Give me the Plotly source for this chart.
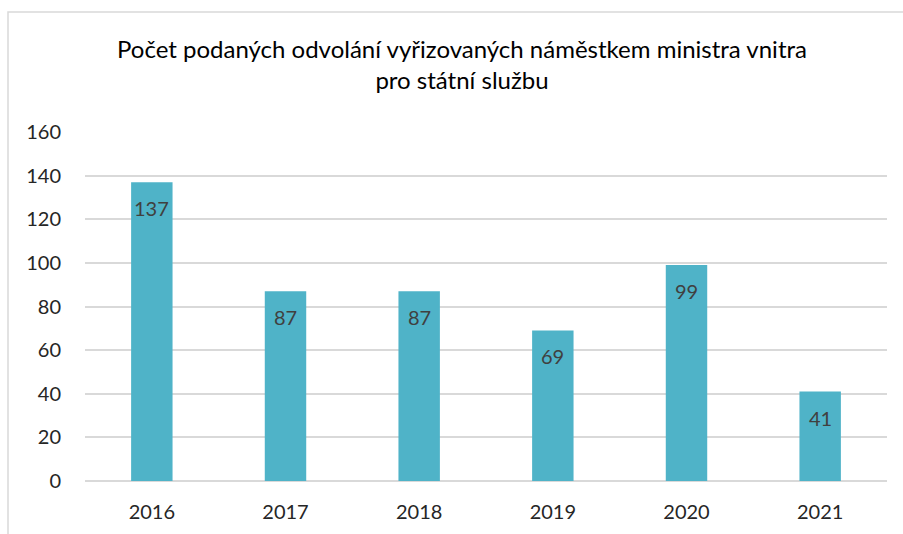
import plotly.graph_objects as go

years = [2016, 2017, 2018, 2019, 2020, 2021]
values = [137, 87, 87, 69, 99, 41]
y_ticks = [0, 20, 40, 60, 80, 100, 120, 140, 160]
title_text = "Počet podaných odvolání vyřizovaných náměstkem ministra vnitra<br>pro státní službu"

W, H = 903, 534
L, R, T, B = 85, 16, 132, 53
FONT = "Lato, Liberation Sans, sans-serif"

fig = go.Figure()
fig.add_trace(go.Bar(
    x=years, y=values,
    marker=dict(color="#4fb3c8", line=dict(width=0)),
    hoverinfo="x+y",
))

for x, v in zip(years, values):
    fig.add_annotation(
        x=x, y=v, text=str(v), showarrow=False,
        yanchor="top", yshift=-12,
        font=dict(family=FONT, size=20, color="#404040"),
    )

fig.update_layout(
    width=W, height=H,
    margin=dict(l=L, r=R, t=T, b=B, autoexpand=False),
    paper_bgcolor="white", plot_bgcolor="white",
    bargap=0.69,
    showlegend=False,
    title=dict(
        text=title_text,
        x=462 / W, xanchor="center",
        y=1 - 58 / H, yanchor="middle",
        font=dict(family=FONT, size=24, color="#000000"),
    ),
    font=dict(family=FONT),
    shapes=[dict(
        type="rect", xref="paper", yref="paper",
        x0=(8 - L) / (W - L - R), x1=(W + 20 - L) / (W - L - R),
        y0=-(B + 20) / (H - T - B), y1=1 + (T - 12) / (H - T - B),
        line=dict(color="#d9d9d9", width=1.5), layer="below",
    )],
)

fig.update_yaxes(
    range=[0, 160], tickvals=y_ticks, automargin=False,
    showgrid=True, gridcolor="#d9d9d9", gridwidth=1.5,
    zeroline=True, zerolinecolor="#d9d9d9", zerolinewidth=1.5,
    showline=False, ticks="outside", ticklen=19, tickcolor="rgba(0,0,0,0)",
    tickfont=dict(family=FONT, size=20, color="#262626"),
    fixedrange=True,
)
fig.update_xaxes(
    range=[2015.5, 2021.5], tickvals=years, ticktext=[str(y) for y in years],
    automargin=False,
    showgrid=False, showline=False, zeroline=False,
    ticks="outside", ticklen=13, tickcolor="rgba(0,0,0,0)",
    tickfont=dict(family=FONT, size=20, color="#262626"),
    fixedrange=True,
)

fig.write_html("out.html", config={"displayModeBar": False},
               post_script="document.body.style.margin='0';")
